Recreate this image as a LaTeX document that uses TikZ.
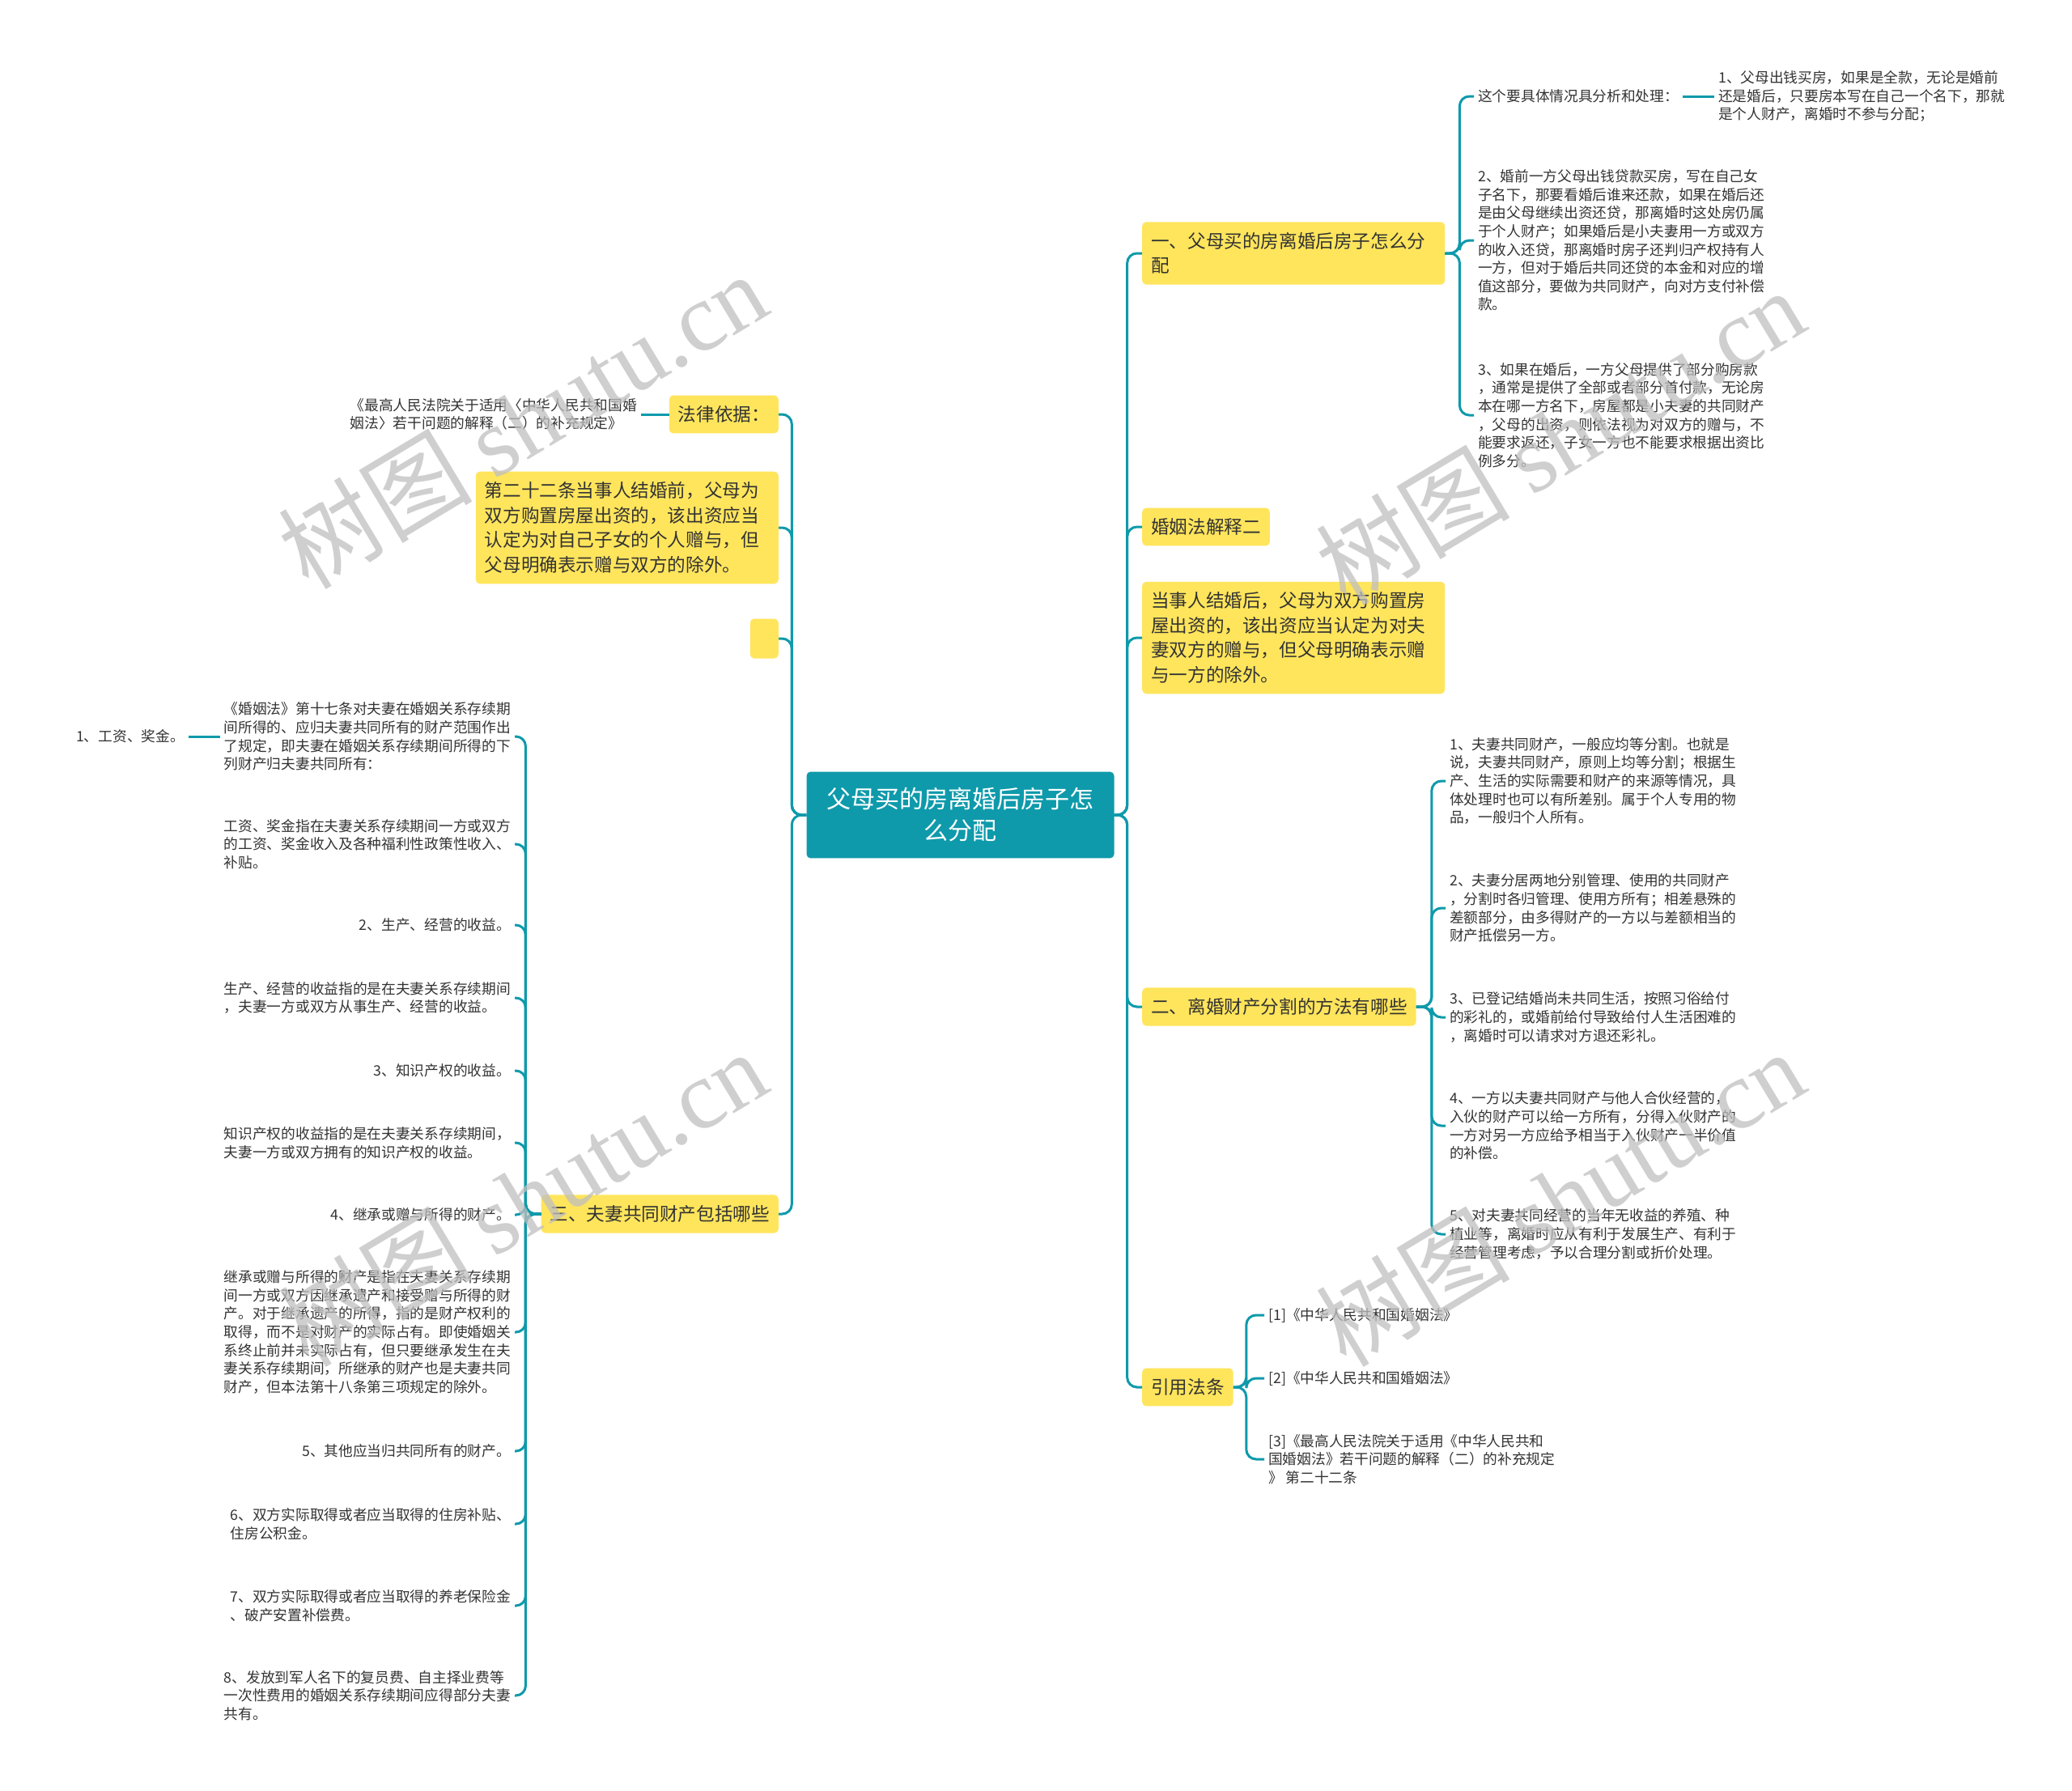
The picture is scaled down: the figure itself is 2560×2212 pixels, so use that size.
\documentclass[tikz,border=0pt]{standalone}
\usepackage{fontspec}
\setmainfont{Noto Sans CJK SC}
\newfontfamily\wmlatin{Liberation Serif}
\definecolor{teal1}{HTML}{0E9AAB}
\definecolor{yel}{HTML}{FFE55C}
\definecolor{txt}{HTML}{333333}
\tikzset{
 conn/.style={draw=teal1, line width=3pt, rounded corners=12pt},
 topic/.style={fill=yel, rounded corners=5pt, inner xsep=11pt, inner ysep=13pt, font=\fontsize{22.6}{30.5}\selectfont, text=txt, align=left},
 leaf/.style={inner xsep=5pt, inner ysep=3pt, font=\fontsize{17.7}{22.6}\selectfont, text=txt, align=left},
 rootnode/.style={fill=teal1, rounded corners=5pt, text=white, font=\fontsize{30}{39}\selectfont, align=center, text width=330pt, inner xsep=25pt, inner ysep=20pt},
 wm/.style={text=black!25, text opacity=0.75, font=\fontsize{120}{120}\selectfont, rotate=31}
}
\begin{document}
\begin{tikzpicture}[x=1pt,y=-1pt]
\fill[white] (0,0) rectangle (2560,2212);
\useasboundingbox (0,0) rectangle (2560,2212);

% root
\node[rootnode] (root) at (1186.5,1007) {父母买的房离婚后房子怎\\么分配};

% right topics
\node[topic, text width=352pt, anchor=west] (r1) at (1411,313) {一、父母买的房离婚后房子怎么分\\配};
\node[topic, anchor=west] (r2) at (1411,651) {婚姻法解释二};
\node[topic, text width=352pt, anchor=west] (r3) at (1411,788) {当事人结婚后，父母为双方购置房\\屋出资的，该出资应当认定为对夫\\妻双方的赠与，但父母明确表示赠\\与一方的除外。};
\node[topic, anchor=west] (r4) at (1411,1244) {二、离婚财产分割的方法有哪些};
\node[topic, anchor=west] (r5) at (1411,1714) {引用法条};

% left topics
\node[topic, anchor=east] (l1) at (962,512) {法律依据：};
\node[topic, text width=352pt, anchor=east] (l2) at (962,652) {第二十二条当事人结婚前，父母为\\双方购置房屋出资的，该出资应当\\认定为对自己子女的个人赠与，但\\父母明确表示赠与双方的除外。};
\node[fill=yel, rounded corners=5pt, minimum width=35pt, minimum height=49pt, inner sep=0pt, anchor=east] (l3) at (962,789) {};
\node[topic, anchor=east] (l4) at (962,1500) {三、夫妻共同财产包括哪些};

\foreach \n in {r1,r2,r3,r4,r5} \draw[conn] (root.east) -- ++(16,0) |- (\n.west);
\foreach \n in {l1,l2,l3,l4} \draw[conn] (root.west) -- ++(-18,0) |- (\n.east);

% r1 children
\node[leaf, anchor=west] (a1) at (1821,119) {这个要具体情况具分析和处理：};
\node[leaf, anchor=west] (a1x) at (2118,119) {1、父母出钱买房，如果是全款，无论是婚前\\还是婚后，只要房本写在自己一个名下，那就\\是个人财产，离婚时不参与分配；};
\node[leaf, anchor=west] (a2) at (1821,297) {2、婚前一方父母出钱贷款买房，写在自己女\\子名下，那要看婚后谁来还款，如果在婚后还\\是由父母继续出资还贷，那离婚时这处房仍属\\于个人财产；如果婚后是小夫妻用一方或双方\\的收入还贷，那离婚时房子还判归产权持有人\\一方，但对于婚后共同还贷的本金和对应的增\\值这部分，要做为共同财产，向对方支付补偿\\款。};
\node[leaf, anchor=west] (a3) at (1821,513) {3、如果在婚后，一方父母提供了部分购房款\\，通常是提供了全部或者部分首付款，无论房\\本在哪一方名下，房屋都是小夫妻的共同财产\\，父母的出资，则依法视为对双方的赠与，不\\能要求返还，子女一方也不能要求根据出资比\\例多分。};
\foreach \n in {a1,a2,a3} \draw[conn] (r1.east) -- ++(18,0) |- (\n.west);
\draw[conn] (a1.east) -- (a1x.west);

% r4 children
\node[leaf, anchor=west] (b1) at (1786,965) {1、夫妻共同财产，一般应均等分割。也就是\\说，夫妻共同财产，原则上均等分割；根据生\\产、生活的实际需要和财产的来源等情况，具\\体处理时也可以有所差别。属于个人专用的物\\品，一般归个人所有。};
\node[leaf, anchor=west] (b2) at (1786,1122) {2、夫妻分居两地分别管理、使用的共同财产\\，分割时各归管理、使用方所有；相差悬殊的\\差额部分，由多得财产的一方以与差额相当的\\财产抵偿另一方。};
\node[leaf, anchor=west] (b3) at (1786,1257) {3、已登记结婚尚未共同生活，按照习俗给付\\的彩礼的，或婚前给付导致给付人生活困难的\\，离婚时可以请求对方退还彩礼。};
\node[leaf, anchor=west] (b4) at (1786,1391) {4、一方以夫妻共同财产与他人合伙经营的，\\入伙的财产可以给一方所有，分得入伙财产的\\一方对另一方应给予相当于入伙财产一半价值\\的补偿。};
\node[leaf, anchor=west] (b5) at (1786,1525) {5、对夫妻共同经营的当年无收益的养殖、种\\植业等，离婚时应从有利于发展生产、有利于\\经营管理考虑，予以合理分割或折价处理。};
\foreach \n in {b1,b2,b3,b4,b5} \draw[conn] (r4.east) -- ++(19,0) |- (\n.west);

% r5 children
\node[leaf, anchor=west] (c1) at (1562,1625) {[1]《中华人民共和国婚姻法》};
\node[leaf, anchor=west] (c2) at (1562,1703) {[2]《中华人民共和国婚姻法》};
\node[leaf, anchor=west] (c3) at (1562,1803) {[3]《最高人民法院关于适用《中华人民共和\\国婚姻法》若干问题的解释（二）的补充规定\\》 第二十二条};
\foreach \n in {c1,c2,c3} \draw[conn] (r5.east) -- ++(16,0) |- (\n.west);

% l1 child
\node[leaf, anchor=east] (l1x) at (792,512) {《最高人民法院关于适用〈中华人民共和国婚\\姻法〉若干问题的解释（二）的补充规定》};
\draw[conn] (l1x.east) -- (l1.west);

% l4 children
\node[leaf, anchor=east] (k1) at (636,910) {《婚姻法》第十七条对夫妻在婚姻关系存续期\\间所得的、应归夫妻共同所有的财产范围作出\\了规定，即夫妻在婚姻关系存续期间所得的下\\列财产归夫妻共同所有：};
\node[leaf, anchor=east] (k2) at (636,1043) {工资、奖金指在夫妻关系存续期间一方或双方\\的工资、奖金收入及各种福利性政策性收入、\\补贴。};
\node[leaf, anchor=east] (k3) at (636,1143) {2、生产、经营的收益。};
\node[leaf, anchor=east] (k4) at (636,1233) {生产、经营的收益指的是在夫妻关系存续期间\\，夫妻一方或双方从事生产、经营的收益。};
\node[leaf, anchor=east] (k5) at (636,1323) {3、知识产权的收益。};
\node[leaf, anchor=east] (k6) at (636,1412) {知识产权的收益指的是在夫妻关系存续期间，\\夫妻一方或双方拥有的知识产权的收益。};
\node[leaf, anchor=east] (k7) at (636,1501) {4、继承或赠与所得的财产。};
\node[leaf, anchor=east] (k8) at (636,1646) {继承或赠与所得的财产是指在夫妻关系存续期\\间一方或双方因继承遗产和接受赠与所得的财\\产。对于继承遗产的所得，指的是财产权利的\\取得，而不是对财产的实际占有。即使婚姻关\\系终止前并未实际占有，但只要继承发生在夫\\妻关系存续期间，所继承的财产也是夫妻共同\\财产，但本法第十八条第三项规定的除外。};
\node[leaf, anchor=east] (k9) at (636,1793) {5、其他应当归共同所有的财产。};
\node[leaf, anchor=east] (k10) at (636,1883) {6、双方实际取得或者应当取得的住房补贴、\\住房公积金。};
\node[leaf, anchor=east] (k11) at (636,1984) {7、双方实际取得或者应当取得的养老保险金\\、破产安置补偿费。};
\node[leaf, anchor=east] (k12) at (636,2095) {8、发放到军人名下的复员费、自主择业费等\\一次性费用的婚姻关系存续期间应得部分夫妻\\共有。};
\foreach \n in {k1,k2,k3,k4,k5,k6,k7,k8,k9,k10,k11,k12} \draw[conn] (l4.west) -- ++(-19,0) |- (\n.east);
\node[leaf, anchor=east] (w1) at (233,910) {1、工资、奖金。};
\draw[conn] (w1.east) -- (k1.west);

% watermarks
\node[wm] (wm1) at (645,519) {树图 {\wmlatin shutu.cn}};
\node[wm] (wm2) at (1927,539) {树图 {\wmlatin shutu.cn}};
\node[wm] (wm3) at (645,1480) {树图 {\wmlatin shutu.cn}};
\node[wm] (wm4) at (1927,1480) {树图 {\wmlatin shutu.cn}};
\end{tikzpicture}
\end{document}
